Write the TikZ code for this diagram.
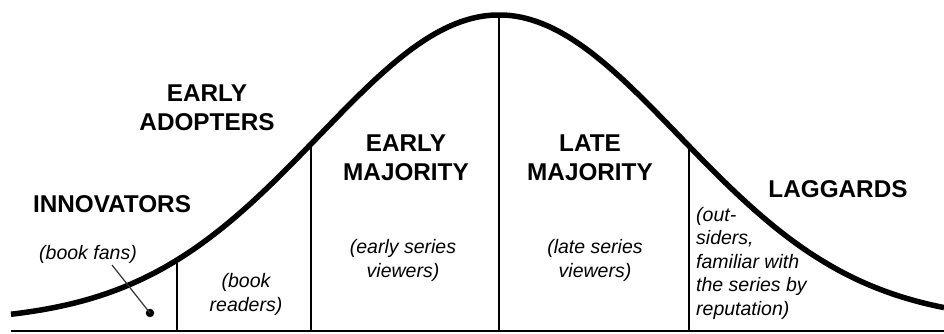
\documentclass[tikz,border=0pt]{standalone}
\usepackage{fontspec}
\setmainfont{Liberation Sans}
\begin{document}
\begin{tikzpicture}[x=1pt,y=-1pt,
  curve/.style={line width=5.5pt},
  divider/.style={line width=2pt},
  axis/.style={line width=2.2pt},
  leader/.style={line width=1.2pt, black!80},
  lab/.style={font=\fontsize{24.3}{29}\selectfont\bfseries, align=center, inner sep=0pt, anchor=base},
  note/.style={font=\fontsize{19.5}{23.5}\selectfont\itshape, align=center, inner sep=0pt, anchor=base},
  notel/.style={note, align=left, anchor=base west},
  dotmark/.style={circle, fill=black, inner sep=0pt, minimum size=8.5pt}
]
\useasboundingbox (0,0) rectangle (944,333);
\def\gauss#1{322-307*exp(-0.5*((#1-499)/180)^2)}
% baseline
\coordinate (axL) at (11,331);
\coordinate (axR) at (944,331);
\draw[axis] (axL) -- (axR);
% dividers
\foreach \xx/\nm in {177/a,311/b,499/c,689/d}{
  \pgfmathsetmacro{\yy}{\gauss{\xx}}
  \coordinate (bot\nm) at (\xx,331);
  \coordinate (top\nm) at (\xx,\yy);
  \draw[divider] (bot\nm) -- (top\nm);
}
% bell curve
\draw[curve] plot[domain=11:944, samples=240, smooth] (\x,{\gauss{\x}});
% labels (anchor = baseline of last line)
\node[lab] (innov) at (112,212) {INNOVATORS};
\node[lab] (early) at (207,130) {EARLY\\ADOPTERS};
\node[lab] (emaj) at (406,180) {EARLY\\MAJORITY};
\node[lab] (lmaj) at (590,180) {LATE\\MAJORITY};
\node[lab] (lagg) at (838,197) {LAGGARDS};
% notes
\node[note] (fans) at (88,259) {(book fans)};
\node[note] (readers) at (246,311) {(book\\readers)};
\node[note] (eview) at (403,277) {(early series\\viewers)};
\node[note] (lview) at (595,277) {(late series\\viewers)};
\node[notel] (outs) at (696,315) {(out-\\siders,\\familiar with\\the series by\\reputation)};
% dot and leader
\node[dotmark] (dot) at (150,313) {};
\coordinate (leadend) at (112,265);
\draw[leader] (dot.center) -- (leadend);
\end{tikzpicture}
\end{document}
